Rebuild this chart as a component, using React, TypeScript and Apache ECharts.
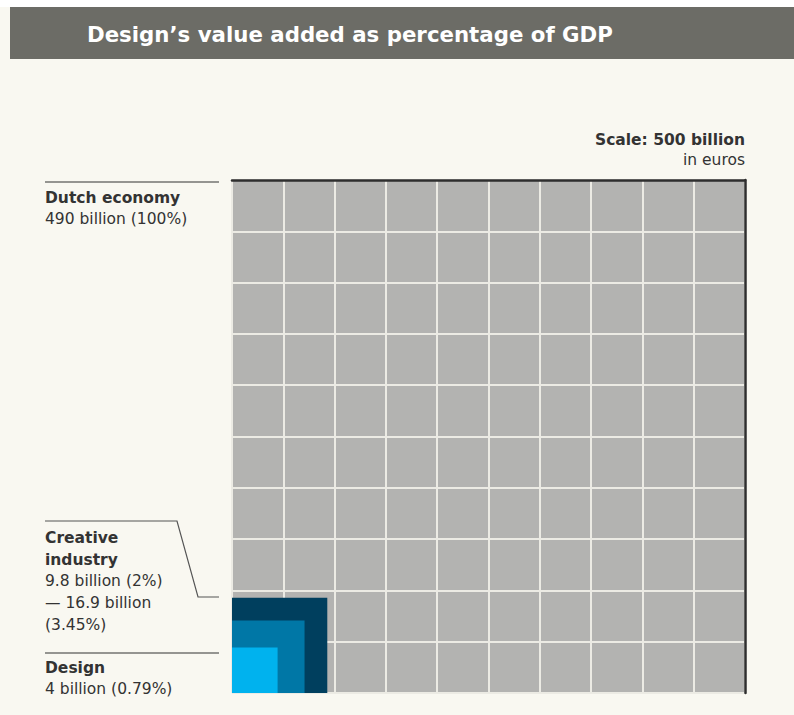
import React, { useEffect, useRef } from "react";
import * as echarts from "echarts";

// Data
const gridTicks = [0, 1, 2, 3, 4, 5, 6, 7, 8, 9, 10];
const segmentNames = ["Creative industry (high)", "Creative industry (low)", "Design"];
const segmentPercent = [3.45, 2, 0.79];
const segmentColors = ["#003f5e", "#0077a6", "#00b2ee"];
const titleText = "Design’s value added as percentage of GDP";
const scaleLabel = "Scale: 500 billion";
const scaleSub = "in euros";
const dutchLabel = ["Dutch economy", "490 billion (100%)"];
const creativeLabel = ["Creative", "industry", "9.8 billion (2%)", "— 16.9 billion", "(3.45%)"];
const designLabel = ["Design", "4 billion (0.79%)"];

const FONT = "'DejaVu Sans', sans-serif";
const TXT = "#333333";

export default function App() {
  const ref = useRef<HTMLDivElement>(null);
  useEffect(() => {
    if (!ref.current) return;
    const chart = echarts.init(ref.current, undefined, { renderer: "svg" });
    const data = segmentPercent.map((p, i) => ({ name: segmentNames[i], value: [p, i] }));
    const boldText = (x: number, y: number, text: string, align = "left", size = 15.5) => ({
      type: "text",
      x,
      y,
      style: { text, fill: TXT, font: `bold ${size}px ${FONT}`, textAlign: align, textVerticalAlign: "middle" },
    });
    const regText = (x: number, y: number, text: string, align = "left", size = 15.5) => ({
      type: "text",
      x,
      y,
      style: { text, fill: TXT, font: `${size}px ${FONT}`, textAlign: align, textVerticalAlign: "middle" },
    });
    chart.setOption({
      animation: false,
      backgroundColor: "#f9f8f1",
      grid: {
        left: 232,
        top: 180,
        width: 513,
        height: 513,
        show: true,
        backgroundColor: "#b3b3b1",
        borderWidth: 0,
      },
      xAxis: {
        type: "value",
        min: gridTicks[0],
        max: gridTicks[gridTicks.length - 1],
        interval: 1,
        position: "top",
        axisLine: { show: true, onZero: false, lineStyle: { color: "#2e2e2e", width: 2.5 } },
        axisTick: { show: false },
        axisLabel: { show: false },
        splitLine: { show: true, lineStyle: { color: "#ecebe4", width: 2 } },
      },
      yAxis: {
        type: "value",
        min: gridTicks[0],
        max: gridTicks[gridTicks.length - 1],
        interval: 1,
        position: "right",
        axisLine: { show: true, onZero: false, lineStyle: { color: "#2e2e2e", width: 2.5 } },
        axisTick: { show: false },
        axisLabel: { show: false },
        splitLine: { show: true, lineStyle: { color: "#ecebe4", width: 2 } },
      },
      series: [
        {
          type: "custom",
          coordinateSystem: "cartesian2d",
          data,
          z: 10,
          renderItem: (params: any, api: any) => {
            const pct = api.value(0);
            const idx = api.value(1);
            const side = Math.sqrt(pct / 100) * 10;
            const p0 = api.coord([0, 0]);
            const p1 = api.coord([side, side]);
            return {
              type: "rect",
              shape: { x: p0[0], y: p1[1], width: p1[0] - p0[0], height: p0[1] - p1[1] },
              style: { fill: segmentColors[idx] },
            };
          },
        },
      ],
      graphic: [
        { type: "rect", shape: { x: 0, y: 0, width: 794, height: 7 }, style: { fill: "#ffffff" } },
        { type: "rect", shape: { x: 10, y: 7, width: 784, height: 52 }, style: { fill: "#6c6c66" } },
        {
          type: "text",
          x: 87,
          y: 34,
          style: { text: titleText, fill: "#ffffff", font: `bold 21.3px ${FONT}`, textVerticalAlign: "middle" },
        },
        boldText(745, 140, scaleLabel, "right"),
        regText(745, 160, scaleSub, "right"),
        { type: "line", shape: { x1: 45, y1: 182, x2: 219, y2: 182 }, style: { stroke: "#333", lineWidth: 1.2 } },
        boldText(45, 198, dutchLabel[0]),
        regText(45, 219, dutchLabel[1]),
        {
          type: "polyline",
          shape: { points: [[45, 521], [177, 521], [198, 597], [219, 597]] },
          style: { stroke: "#555", lineWidth: 1.2, fill: null },
        },
        boldText(45, 538, creativeLabel[0]),
        boldText(45, 560, creativeLabel[1]),
        regText(45, 581, creativeLabel[2]),
        regText(45, 603, creativeLabel[3]),
        regText(45, 625, creativeLabel[4]),
        { type: "line", shape: { x1: 45, y1: 653, x2: 219, y2: 653 }, style: { stroke: "#333", lineWidth: 1.2 } },
        boldText(45, 668, designLabel[0]),
        regText(45, 689, designLabel[1]),
      ],
    });
    return () => chart.dispose();
  }, []);
  return (
    <div
      ref={ref}
      style={{ position: "absolute", left: 0, top: 0, width: 794, height: 715 }}
    />
  );
}
